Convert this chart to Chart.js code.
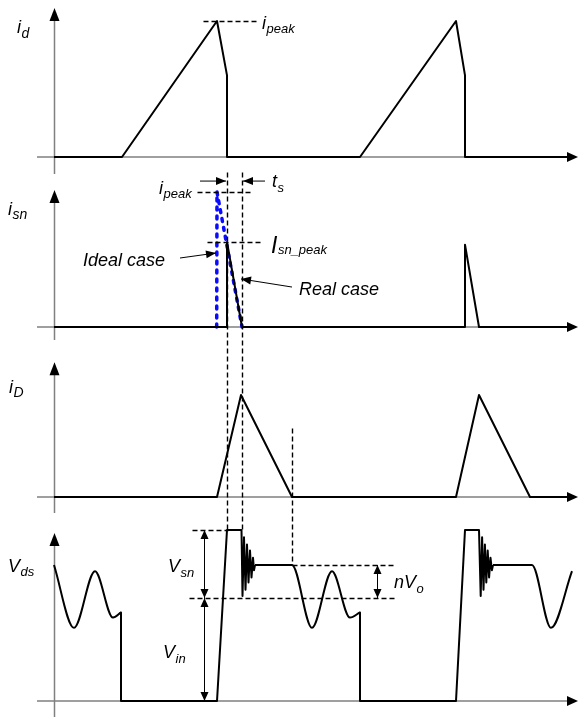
<!DOCTYPE html>
<html>
<head>
<meta charset="utf-8">
<script src="https://cdn.jsdelivr.net/npm/chart.js@4.4.0/dist/chart.umd.min.js"></script>
<style>
  html, body { margin: 0; padding: 0; background: #fff; }
  canvas { display: block; }
</style>
</head>
<body>
<canvas id="myChart" width="579" height="717"></canvas>
<script>
// time in arbitrary units, 0 = vertical axes
// i_d and i_sn normalised to i_peak, i_D to its own peak, V_ds to V_in

const idT = [0, 6.8, 16.3, 17.3, 17.3, 30.6, 40.2, 41.1, 41.1, 51.5];
const idV = [0, 0, 1, 0.6, 0, 0, 1, 0.6, 0, 0];

const isnRealT = [0, 17.3, 17.3, 18.8, 41.1, 41.1, 42.5, 51.5];
const isnRealV = [0, 0, 0.63, 0, 0, 0.61, 0, 0];

const isnIdealT = [16.27, 16.3, 18.8];
const isnIdealV = [0, 1, 0];

const iDT = [0, 16.3, 18.7, 23.8, 40.2, 42.5, 47.6, 51.5];
const iDV = [0, 0, 1, 0, 0, 1, 0, 0];

// resonant ringing parts of V_ds (smooth), null = gap
const vdsSmoothT = [0, 2.0, 4.1, 5.9, 6.7, 10, 20.1, 23.8, 25.8, 27.8, 29.6, 30.6, 35, 43.9, 47.8, 49.7, 51.8];
const vdsSmoothV = [1.32, 0.71, 1.26, 0.81, 0.86, null, 1.32, 1.32, 0.71, 1.26, 0.81, 0.86, null, 1.32, 1.32, 0.71, 1.26];

// switching edges, clamp and leakage ringing of V_ds (straight)
const vdsEdgeT = [6.7, 6.7, 16.3, 17.3, 18.75, 18.85, 19.0, 19.15, 19.3, 19.45, 19.6, 19.75, 19.9, 20.0, 20.1,
                  25,
                  30.6, 30.6, 40.2, 41.1, 42.5, 42.67, 42.81, 42.95, 43.09, 43.23, 43.37, 43.51, 43.65, 43.79, 43.9];
const vdsEdgeV = [0.86, 0, 0, 1.66, 1.66, 1.02, 1.59, 1.08, 1.52, 1.15, 1.46, 1.20, 1.39, 1.27, 1.32,
                  null,
                  0.86, 0, 0, 1.66, 1.66, 1.02, 1.59, 1.08, 1.52, 1.15, 1.46, 1.20, 1.39, 1.27, 1.32];

const H = 717;
// panel layout: baseline pixel, pixels per unit, axis extent (in panel units)
const panels = [
  { id: 'y1', base: 157, unit: 136, top: 1.096, bottom: -0.125 },
  { id: 'y2', base: 327, unit: 135, top: 1.015, bottom: -0.096 },
  { id: 'y3', base: 497, unit: 102, top: 1.32, bottom: -0.157 },
  { id: 'y4', base: 701, unit: 103, top: 1.63, bottom: -0.155 }
];

const pts = (ts, vs) => ts.map((t, i) => ({ x: t, y: vs[i] }));

const scales = {
  x: { type: 'linear', min: -5.4, max: 52.5, display: false, bounds: 'data' }
};
panels.forEach(p => {
  scales[p.id] = {
    type: 'linear', position: 'left', display: false, bounds: 'data',
    min: (p.base - H) / p.unit, max: p.base / p.unit
  };
});

// annotations, all in data units: [t1, axis1, v1, t2, axis2, v2]
const dashed = [
  [14.9, 'y1', 1, 20.5, 'y1', 1],
  [14.3, 'y2', 1, 19.6, 'y2', 1],
  [15.3, 'y2', 0.63, 20.8, 'y2', 0.63],
  [17.3, 'y2', 1.15, 17.3, 'y4', 1.66],
  [18.8, 'y2', 1.15, 18.8, 'y4', 1.66],
  [23.8, 'y3', 0.68, 23.8, 'y4', 1.32],
  [13.8, 'y4', 1.66, 17.4, 'y4', 1.66],
  [13.5, 'y4', 1.0, 34.1, 'y4', 1.0],
  [23.8, 'y4', 1.32, 34.1, 'y4', 1.32]
];
const arrows = [
  [14.6, 'y2', 1.081, 17.2, 'y2', 1.081],
  [21.1, 'y2', 1.081, 18.9, 'y2', 1.081],
  [12.6, 'y2', 0.511, 16.2, 'y2', 0.548],
  [23.8, 'y2', 0.296, 18.7, 'y2', 0.356]
];
const dimArrows = [
  [15.0, 'y4', 1.66, 1.0],
  [15.0, 'y4', 1.0, 0],
  [32.3, 'y4', 1.32, 1.0]
];
// [t, axis, v, main, sub, main size, sub size, sub drop]
const labels = [
  [-3.7, 'y1', 0.912, 'i', 'd', 18, 14, 5],
  [20.8, 'y1', 0.941, 'i', 'peak', 18, 13, 4],
  [-4.6, 'y2', 0.83, 'i', 'sn', 18, 14, 4],
  [10.5, 'y2', 0.985, 'i', 'peak', 18, 13, 4],
  [21.8, 'y2', 1.037, 't', 's', 18, 13, 5],
  [21.7, 'y2', 0.548, 'I', 'sn_peak', 23, 13, 1],
  [2.9, 'y2', 0.452, 'Ideal case', '', 18, 13, 0],
  [24.5, 'y2', 0.237, 'Real case', '', 18, 13, 0],
  [-4.5, 'y3', 1.02, 'i', 'D', 18, 14, 4],
  [-4.6, 'y4', 1.252, 'V', 'ds', 18, 13, 4],
  [11.4, 'y4', 1.252, 'V', 'sn', 18, 13, 5],
  [10.9, 'y4', 0.417, 'V', 'in', 18, 13, 5],
  [34.0, 'y4', 1.097, 'nV', 'o', 18, 13, 5]
];

const fontOf = size => 'italic ' + size + 'px "Liberation Sans", Arial, sans-serif';
const snap = v => Math.round(v) + 0.5;

function head(ctx, x1, y1, x2, y2, len, half) {
  const a = Math.atan2(y2 - y1, x2 - x1);
  ctx.beginPath();
  ctx.moveTo(x2, y2);
  ctx.lineTo(x2 - len * Math.cos(a) + half * Math.sin(a), y2 - len * Math.sin(a) - half * Math.cos(a));
  ctx.lineTo(x2 - len * Math.cos(a) - half * Math.sin(a), y2 - len * Math.sin(a) + half * Math.cos(a));
  ctx.closePath();
  ctx.fill();
}

const decor = {
  id: 'decor',
  beforeDatasetsDraw(chart) {
    const ctx = chart.ctx;
    const X = t => chart.scales.x.getPixelForValue(t);
    ctx.save();
    panels.forEach(p => {
      const sc = chart.scales[p.id];
      const x0 = snap(X(0));
      const yb = sc.getPixelForValue(0);
      const yt = sc.getPixelForValue(p.top);
      ctx.strokeStyle = '#808080';
      ctx.lineWidth = 1.5;
      ctx.beginPath();
      ctx.moveTo(x0, sc.getPixelForValue(p.bottom));
      ctx.lineTo(x0, yt + 10);
      ctx.moveTo(X(-1.7), yb);
      ctx.lineTo(X(51.6), yb);
      ctx.stroke();
      ctx.fillStyle = '#000';
      head(ctx, x0, yt + 20, x0, yt, 13, 5);
      head(ctx, X(50), yb, X(52.4), yb, 11, 5);
    });
    ctx.restore();
  },
  afterDatasetsDraw(chart) {
    const ctx = chart.ctx;
    const X = t => chart.scales.x.getPixelForValue(t);
    const Y = (ax, v) => chart.scales[ax].getPixelForValue(v);
    ctx.save();
    ctx.strokeStyle = '#000';
    ctx.fillStyle = '#000';

    ctx.lineWidth = 1.4;
    ctx.setLineDash([5, 3]);
    dashed.forEach(d => {
      ctx.beginPath();
      ctx.moveTo(snap(X(d[0])), snap(Y(d[1], d[2])));
      ctx.lineTo(snap(X(d[3])), snap(Y(d[4], d[5])));
      ctx.stroke();
    });
    ctx.setLineDash([]);

    ctx.lineWidth = 1;
    arrows.forEach(a => {
      const x1 = X(a[0]), y1 = Y(a[1], a[2]), x2 = X(a[3]), y2 = Y(a[4], a[5]);
      ctx.beginPath();
      ctx.moveTo(x1, y1);
      ctx.lineTo(x2, y2);
      ctx.stroke();
      head(ctx, x1, y1, x2, y2, 10, 4);
    });

    dimArrows.forEach(a => {
      const x = snap(X(a[0])), y1 = Y(a[1], a[2]), y2 = Y(a[1], a[3]);
      ctx.beginPath();
      ctx.moveTo(x, y1);
      ctx.lineTo(x, y2);
      ctx.stroke();
      head(ctx, x, (y1 + y2) / 2, x, y1, 9, 4);
      head(ctx, x, (y1 + y2) / 2, x, y2, 9, 4);
    });

    ctx.textBaseline = 'alphabetic';
    ctx.textAlign = 'left';
    labels.forEach(l => {
      const x = X(l[0]), y = Y(l[1], l[2]);
      ctx.font = fontOf(l[5]);
      ctx.fillText(l[3], x, y);
      if (l[4]) {
        const w = ctx.measureText(l[3]).width;
        ctx.font = fontOf(l[6]);
        ctx.fillText(l[4], x + w + 0.5, y + l[7]);
      }
    });
    ctx.restore();
  }
};

const black = (ts, vs, ax, extra) => Object.assign({
  data: pts(ts, vs), yAxisID: ax, borderColor: '#000', borderWidth: 2,
  pointRadius: 0, tension: 0, spanGaps: false, borderJoinStyle: 'round', fill: false
}, extra || {});

const myChart = new Chart(document.getElementById('myChart'), {
  type: 'line',
  data: {
    datasets: [
      black(idT, idV, 'y1'),
      black(isnRealT, isnRealV, 'y2'),
      black(isnIdealT, isnIdealV, 'y2', {
        borderColor: '#0a0aff', borderWidth: 3.5, borderDash: [3, 6], borderCapStyle: 'round'
      }),
      black(iDT, iDV, 'y3'),
      black(vdsSmoothT, vdsSmoothV, 'y4', { cubicInterpolationMode: 'monotone' }),
      black(vdsEdgeT, vdsEdgeV, 'y4')
    ]
  },
  options: {
    responsive: false,
    animation: false,
    devicePixelRatio: 1,
    layout: { padding: 0 },
    plugins: { legend: { display: false }, tooltip: { enabled: false } },
    scales: scales
  },
  plugins: [decor]
});
</script>
</body>
</html>
